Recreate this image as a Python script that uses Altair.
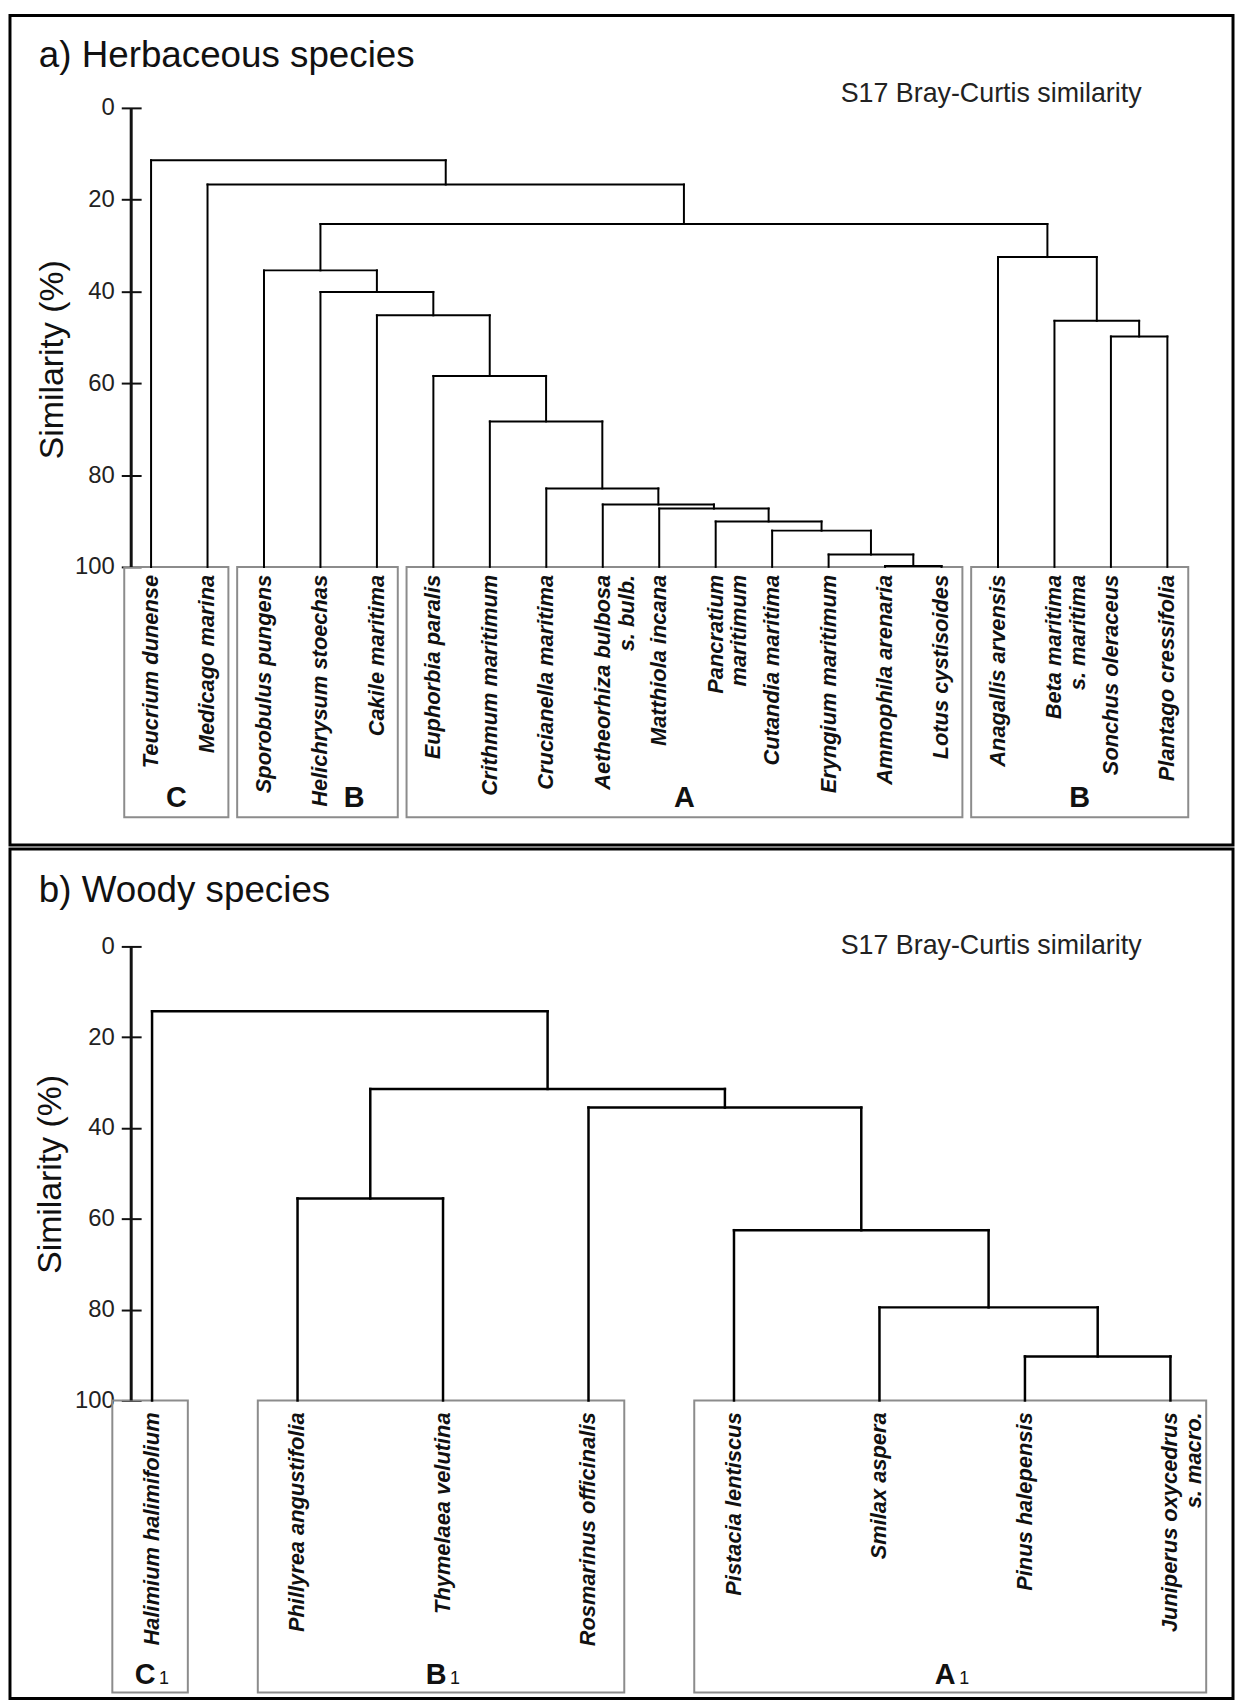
import altair as alt
import pandas as pd

# ---------------- a) Herbaceous species ----------------
herb_species = [
    "Teucrium dunense", "Medicago marina", "Sporobulus pungens",
    "Helichrysum stoechas", "Cakile maritima", "Euphorbia paralis",
    "Crithmum maritimum", "Crucianella maritima", "Aetheorhiza bulbosa\ns. bulb.",
    "Matthiola incana", "Pancratium\nmaritimum", "Cutandia maritima",
    "Eryngium maritimum", "Ammophila arenaria", "Lotus cystisoides",
    "Anagallis arvensis", "Beta maritima\ns. maritima", "Sonchus oleraceus",
    "Plantago cressifolia",
]
# agglomerative merges: new node ids continue after the leaves (19, 20, ...)
herb_left = [13, 12, 11, 10, 9, 8, 7, 6, 5, 4, 3, 2, 17, 16, 15, 30, 1, 0]
herb_right = [14, 19, 20, 21, 22, 23, 24, 25, 26, 27, 28, 29, 18, 31, 32, 33, 34, 35]
herb_similarity = [99.8, 97.3, 92.1, 90.1, 87.3, 86.4, 82.9, 68.3, 58.4, 45.2,
                   40.1, 35.4, 49.8, 46.4, 32.5, 25.3, 16.7, 11.4]
herb_group_names = ["C", "B", "A", "B"]
herb_group_sub = ["", "", "", ""]
herb_group_first = [0, 2, 5, 15]
herb_group_last = [1, 4, 14, 18]

# ---------------- b) Woody species ----------------
wood_species = [
    "Halimium halimifolium", "Phillyrea angustifolia", "Thymelaea velutina",
    "Rosmarinus officinalis", "Pistacia lentiscus", "Smilax aspera",
    "Pinus halepensis", "Juniperus oxycedrus\ns. macro.",
]
wood_left = [6, 5, 4, 3, 1, 12, 0]
wood_right = [7, 8, 9, 10, 2, 11, 13]
wood_similarity = [90.3, 79.5, 62.5, 35.5, 55.5, 31.4, 14.3]
wood_group_names = ["C", "B", "A"]
wood_group_sub = ["1", "1", "1"]
wood_group_first = [0, 1, 4]
wood_group_last = [0, 3, 7]

axis_values = [0, 20, 40, 60, 80, 100]

FONT = "Liberation Sans, Arial, Helvetica, sans-serif"
PANEL_W = 1231


def segments(n, left, right, sim):
    pos = [float(i) for i in range(n)]
    height = [100.0] * n
    rows = []
    for l, r, s in zip(left, right, sim):
        rows.append({"x": pos[l], "x2": pos[r], "y": s, "y2": s})
        rows.append({"x": pos[l], "x2": pos[l], "y": height[l], "y2": s})
        rows.append({"x": pos[r], "x2": pos[r], "y": height[r], "y2": s})
        pos.append((pos[l] + pos[r]) / 2.0)
        height.append(s)
    return pd.DataFrame(rows)


def panel(species, left, right, sim, gnames, gsub, gfirst, glast, title, lay):
    n = len(species)
    H = lay["height"]
    step = lay["leaf_step"]
    x0 = lay["leaf0"]
    ppp = lay["px_per_pct"]
    y0 = lay["zero_px"]
    xdom = [(0 - x0) / step, (PANEL_W - x0) / step]
    ydom = [-y0 / ppp, (H - y0) / ppp]
    xs = alt.Scale(domain=xdom, nice=False, zero=False)
    ys = alt.Scale(domain=ydom, reverse=True, nice=False, zero=False)

    axis = alt.Axis(
        values=axis_values, domain=False, grid=False, ticks=True,
        tickSize=20, tickWidth=2, tickColor="#111",
        labelFont=FONT, labelFontSize=24, labelColor="#222", labelPadding=7,
        labelFlush=False, labelOverlap=False,
        offset=-132,
        title="Similarity (%)", titleFont=FONT, titleFontSize=34,
        titleFontWeight="normal", titleColor="#111", titleAngle=270,
        titleX=lay["title_x"], titleY=lay["title_y"],
        titleAlign="center", titleBaseline="middle",
    )

    def X(f):
        return alt.X(f, type="quantitative", scale=xs, axis=None)

    def Y(f):
        return alt.Y(f, type="quantitative", scale=ys, axis=axis)

    seg = segments(n, left, right, sim)
    tree = alt.Chart(seg).mark_rule(
        color="#000", strokeWidth=lay["line_w"], strokeCap="square"
    ).encode(x=X("x"), x2="x2", y=Y("y"), y2="y2")

    axis_df = pd.DataFrame({"a": [axis_values[0]], "b": [axis_values[-1]]})
    axis_line = alt.Chart(axis_df).mark_rule(color="#111", strokeWidth=3).encode(
        x=alt.value(122), y=Y("a"), y2="b"
    )

    leaves = pd.DataFrame({"x": list(range(n)), "y": [100.0] * n, "label": species})
    labels = alt.Chart(leaves).mark_text(
        angle=270, align="right", baseline="middle", dx=lay["label_dx"],
        font=FONT, fontSize=22, fontStyle="italic", fontWeight="bold",
        lineBreak="\n", lineHeight=24, color="#111",
    ).encode(x=X("x"), y=Y("y"), text="label:N")

    pad_l = lay["box_pad_l"] / step
    pad_r = lay["box_pad_r"] / step
    box_bottom = 100 + lay["box_depth"] / ppp
    letter_y = 100 + lay["letter_depth"] / ppp
    shifts = [lay["letter_shift"].get(i, 0) / step for i in range(len(gnames))]
    boxes = pd.DataFrame({
        "x": [f - pad_l for f in gfirst],
        "x2": [l + pad_r for l in glast],
        "y": [100.0] * len(gnames),
        "y2": [box_bottom] * len(gnames),
        "cx": [((f - pad_l) + (l + pad_r)) / 2 + s
               for f, l, s in zip(gfirst, glast, shifts)],
        "ly": [letter_y] * len(gnames),
        "name": gnames,
        "sub": gsub,
    })
    box_layer = alt.Chart(boxes).mark_rect(
        fillOpacity=0, stroke="#8c8c8c", strokeWidth=2
    ).encode(x=X("x"), x2="x2", y=Y("y"), y2="y2")
    has_sub = any(s for s in gsub)
    letters = alt.Chart(boxes).mark_text(
        align="center", baseline="alphabetic", dx=(-5 if has_sub else 0),
        font=FONT, fontSize=29, fontWeight="bold", color="#111",
    ).encode(x=X("cx"), y=Y("ly"), text="name:N")

    title_txt = alt.Chart(pd.DataFrame({"t": [title]})).mark_text(
        align="left", baseline="alphabetic", font=FONT, fontSize=37, color="#111"
    ).encode(x=alt.value(29), y=alt.value(lay["head_y"]), text="t:N")
    caption = alt.Chart(pd.DataFrame({"t": ["S17 Bray-Curtis similarity"]})).mark_text(
        align="right", baseline="alphabetic", font=FONT, fontSize=27, color="#222"
    ).encode(x=alt.value(1139), y=alt.value(lay["cap_y"]), text="t:N")

    layers = [box_layer, tree, axis_line, labels, letters, title_txt, caption]
    if has_sub:
        subs = alt.Chart(boxes).mark_text(
            align="left", baseline="alphabetic", dx=9,
            font=FONT, fontSize=18, color="#111",
        ).encode(x=X("cx"), y=Y("ly"), text="sub:N")
        layers.append(subs)
    return alt.layer(*layers).properties(width=PANEL_W, height=H)


lay_a = dict(height=835, leaf0=142, leaf_step=56.83, px_per_pct=4.62, zero_px=93,
             title_x=-89, title_y=346, line_w=2, label_dx=-8,
             box_pad_l=27, box_pad_r=21, box_depth=252, letter_depth=242,
             letter_shift={1: 37}, head_y=52, cap_y=87)
lay_b = dict(height=855, leaf0=143, leaf_step=146.43, px_per_pct=4.57, zero_px=98,
             title_x=-91, title_y=327, line_w=2.5, label_dx=-12,
             box_pad_l=40, box_pad_r=36, box_depth=294, letter_depth=285,
             letter_shift={}, head_y=53, cap_y=106)

pa = panel(herb_species, herb_left, herb_right, herb_similarity,
           herb_group_names, herb_group_sub, herb_group_first, herb_group_last,
           "a) Herbaceous  species", lay_a)
pb = panel(wood_species, wood_left, wood_right, wood_similarity,
           wood_group_names, wood_group_sub, wood_group_first, wood_group_last,
           "b) Woody species", lay_b)

chart = (
    alt.vconcat(pa, pb, spacing=0)
    .properties(padding=0, background="white")
    .configure_view(stroke="#000", strokeWidth=3)
    .configure_concat(spacing=0)
)
chart.save("out.html", embed_options={"renderer": "svg", "actions": False})
